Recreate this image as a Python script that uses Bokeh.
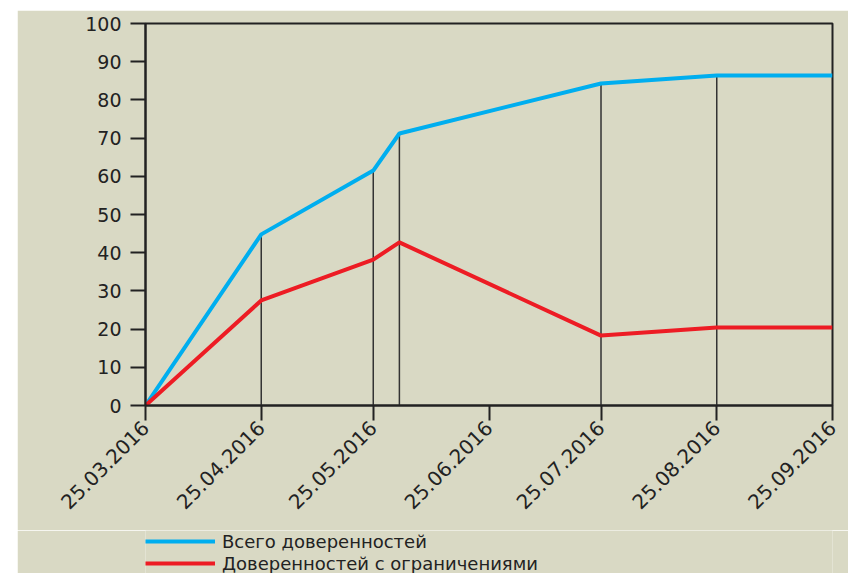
import math
from datetime import datetime
from bokeh.plotting import figure
from bokeh.models import (DatetimeTickFormatter, FixedTicker, Legend, LegendItem,
                          Range1d, Spacer)
from bokeh.layouts import row, column
from bokeh.embed import file_html
from bokeh.resources import INLINE

# ---- data ----
dates = ["25.03.2016", "25.04.2016", "25.05.2016", "01.06.2016",
         "25.07.2016", "25.08.2016", "25.09.2016"]
total = [0, 44.8, 61.5, 71.2, 84.3, 86.4, 86.4]
restricted = [0, 27.5, 38.2, 42.7, 18.3, 20.4, 20.4]
tick_dates = ["25.03.2016", "25.04.2016", "25.05.2016", "25.06.2016",
              "25.07.2016", "25.08.2016", "25.09.2016"]
y_ticks = list(range(0, 101, 10))
series_names = ["Всего доверенностей", "Доверенностей с ограничениями"]
series_colors = ["#00aeef", "#ed1c24"]

BG = "#d9d9c4"
INK = "#222222"
FONT = "DejaVu Sans"

xd = [datetime.strptime(d, "%d.%m.%Y") for d in dates]
xt = [datetime.strptime(d, "%d.%m.%Y") for d in tick_dates]
xt_ms = [t.timestamp() * 1000 for t in xt]

# ---- main chart ----
p = figure(width=831, height=520, x_axis_type="datetime",
           output_backend="svg", toolbar_location=None,
           background_fill_color=BG, border_fill_color=BG,
           min_border_left=128, min_border_right=16,
           min_border_top=13, min_border_bottom=125)
p.x_range = Range1d(xt[0], xt[-1])
p.y_range = Range1d(0, 100)
p.grid.visible = False
p.outline_line_color = INK
p.outline_line_width = 2

p.segment(x0=xd[1:-1], y0=[0] * (len(xd) - 2), x1=xd[1:-1], y1=total[1:-1],
          line_color="#333333", line_width=1.5)
p.line(xd, total, line_color=series_colors[0], line_width=4)
p.line(xd, restricted, line_color=series_colors[1], line_width=4)

for ax in (p.xaxis[0], p.yaxis[0]):
    ax.axis_line_color = INK
    ax.axis_line_width = 2
    ax.major_tick_line_color = INK
    ax.major_tick_line_width = 2
    ax.major_tick_out = 15
    ax.major_tick_in = 0
    ax.minor_tick_line_color = None
    ax.major_label_text_font = FONT
    ax.major_label_text_color = INK

p.yaxis.major_label_text_font_size = "19px"
p.xaxis.major_label_text_font_size = "20px"
p.yaxis.ticker = FixedTicker(ticks=y_ticks)
p.yaxis.major_label_standoff = 9
p.xaxis.ticker = FixedTicker(ticks=xt_ms)
p.xaxis.formatter = DatetimeTickFormatter(days="%d.%m.%Y", months="%d.%m.%Y",
                                          years="%d.%m.%Y")
p.xaxis.major_label_orientation = math.pi / 4
p.xaxis.major_label_standoff = 4

# ---- legend strip ----
lg = figure(width=831, height=43, output_backend="svg", toolbar_location=None,
            background_fill_color=BG, border_fill_color=BG,
            min_border=0, outline_line_color=None,
            x_range=Range1d(0, 1), y_range=Range1d(0, 1))
lg.axis.visible = False
lg.grid.visible = False
xd_ms = [d.timestamp() * 1000 for d in xd]
l1 = lg.line(xd_ms, total, line_color=series_colors[0], line_width=4)
l2 = lg.line(xd_ms, restricted, line_color=series_colors[1], line_width=4)
legend = Legend(items=[LegendItem(label=series_names[0], renderers=[l1]),
                       LegendItem(label=series_names[1], renderers=[l2])],
                location=(0, -1), orientation="vertical",
                background_fill_alpha=0, border_line_color=None,
                margin=0, padding=0, spacing=0,
                glyph_width=70, glyph_height=22, label_height=22,
                label_standoff=7,
                label_text_font=FONT, label_text_font_size="18px",
                label_text_color=INK)
lg.add_layout(legend, "center")

layout = row(Spacer(width=17),
             column(Spacer(height=10), p, lg, spacing=0), spacing=0)
open("out.html", "w").write(file_html(layout, INLINE))
